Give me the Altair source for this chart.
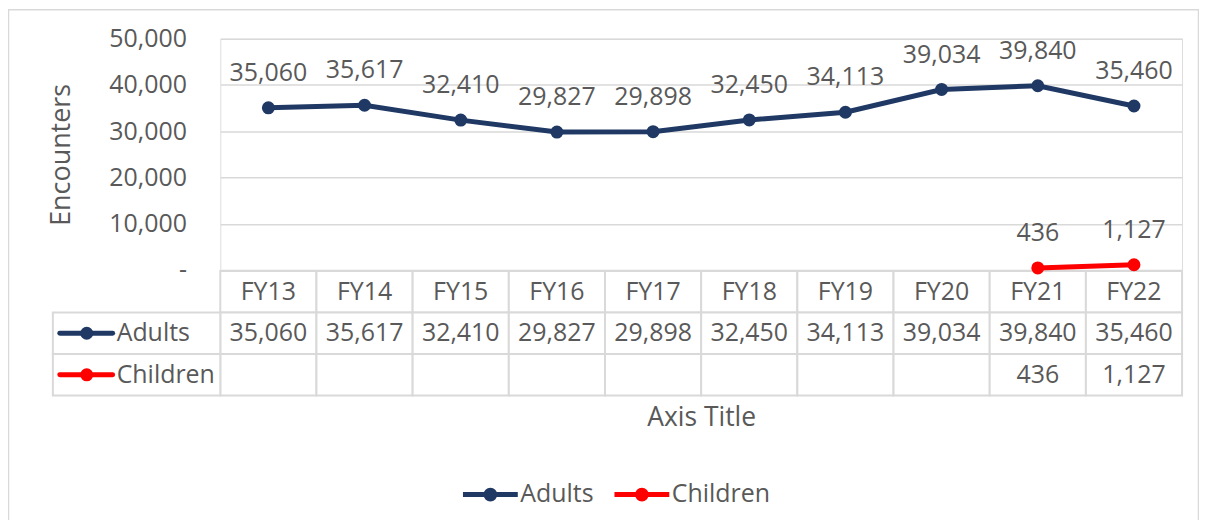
import altair as alt
import pandas as pd

years = ["FY13", "FY14", "FY15", "FY16", "FY17", "FY18", "FY19", "FY20", "FY21", "FY22"]
adults = [35060, 35617, 32410, 29827, 29898, 32450, 34113, 39034, 39840, 35460]
children_years = ["FY21", "FY22"]
children = [436, 1127]
series = ["Adults", "Children"]
colors = ["#1f3864", "#ff0000"]
y_ticks = [0, 10000, 20000, 30000, 40000, 50000]
table_rows = ["hdr", "Adults", "Children"]

FONT = "Open Sans"
GRAY = "#595959"
GRID = "#d9d9d9"
FS = 25

line_df = pd.DataFrame(
    [{"FY": y, "series": "Adults", "value": v} for y, v in zip(years, adults)]
    + [{"FY": y, "series": "Children", "value": v} for y, v in zip(children_years, children)]
)
line_df["label"] = line_df["value"].map(lambda v: f"{v:,}")
line_df["row"] = line_df["series"]

cells_df = pd.DataFrame([{"FY": y, "row": r} for y in years for r in table_rows])
hdr_df = pd.DataFrame({"FY": years, "row": ["hdr"] * len(years), "label": years})
rowlab_df = pd.DataFrame({"row": series, "series": series})
frame_df = pd.DataFrame({"a": [0]})

x_enc = alt.X(
    "FY:N",
    scale=alt.Scale(type="band", domain=years, paddingInner=0, paddingOuter=0),
    axis=alt.Axis(labels=False, ticks=False, domain=False, grid=False,
                  title="Axis Title", titleFontSize=26.5, titleColor=GRAY,
                  titleFontWeight="normal", titleFont=FONT, titleY=148,
                  titleBaseline="middle"),
)
row_y = alt.Y("row:N", scale=alt.Scale(domain=table_rows, range=[233, 358],
                                       paddingInner=0, paddingOuter=0), axis=None)
color_enc = alt.Color(
    "series:N",
    scale=alt.Scale(domain=series, range=colors),
    legend=alt.Legend(
        orient="none", legendX=241, legendY=427, direction="horizontal",
        title=None,
        symbolType="M-1,0H1M-0.16,0A0.16,0.16 0 1,0 0.16,0A0.16,0.16 0 1,0 -0.16,0",
        symbolSize=3025, symbolStrokeWidth=5, labelFontSize=FS, labelColor=GRAY,
        labelFont=FONT, columnPadding=10, labelOffset=0,
    ),
)

frame = alt.Chart(frame_df).mark_rect(fill="transparent", stroke=GRID, strokeWidth=1.5).encode(
    x=alt.value(-212.5), x2=alt.value(981.5), y=alt.value(-29), y2=alt.value(600)
)

cells = alt.Chart(cells_df).mark_rect(fill="white", stroke=GRID, strokeWidth=2).encode(
    x=x_enc, y=row_y
)
labcells = alt.Chart(rowlab_df).mark_rect(fill="white", stroke=GRID, strokeWidth=2).encode(
    x=alt.value(-168), x2=alt.value(0), y=row_y
)
hdr_text = alt.Chart(hdr_df).mark_text(fontSize=FS, font=FONT, color=GRAY).encode(
    x=x_enc, y=row_y, text="label:N"
)
val_text = alt.Chart(line_df).mark_text(fontSize=FS, font=FONT, color=GRAY).encode(
    x=x_enc, y=row_y, text="label:N"
)
row_text = alt.Chart(rowlab_df).mark_text(fontSize=FS, font=FONT, color=GRAY, align="left").encode(
    x=alt.value(-104), y=row_y, text="series:N"
)
key_rule = alt.Chart(rowlab_df).mark_rule(strokeWidth=5, strokeCap="round").encode(
    x=alt.value(-161), x2=alt.value(-108), y=row_y,
    color=alt.Color("series:N", scale=alt.Scale(domain=series, range=colors), legend=None),
)
key_pt = alt.Chart(rowlab_df).mark_circle(size=170, opacity=1).encode(
    x=alt.value(-134), y=row_y,
    color=alt.Color("series:N", scale=alt.Scale(domain=series, range=colors), legend=None),
)
table = alt.layer(cells, labcells, hdr_text, val_text, row_text, key_rule, key_pt)

y_enc = alt.Y(
    "value:Q",
    scale=alt.Scale(domain=[0, 50000], nice=False),
    axis=alt.Axis(
        values=y_ticks,
        labelExpr="datum.value == 0 ? '-\u00a0\u00a0\u00a0' : format(datum.value, ',')",
        grid=True, gridColor=GRID, gridWidth=1.5, domain=False, ticks=False,
        labelPadding=34, labelFontSize=FS, labelColor=GRAY, labelFont=FONT,
        title="Encounters", titleX=-159, titleY=116, titleAngle=270,
        titleAlign="center", titleBaseline="middle", titleFontSize=27,
        titleFontWeight="normal", titleColor=GRAY, titleFont=FONT,
    ),
)
lines = alt.Chart(line_df).mark_line(
    strokeWidth=5, point=alt.OverlayMarkDef(filled=True, size=170, opacity=1)
).encode(x=x_enc, y=y_enc, color=color_enc, detail="series:N")
labels = alt.Chart(line_df).mark_text(dy=-35, fontSize=FS, font=FONT, color=GRAY).encode(
    x=x_enc, y=y_enc, text="label:N"
)
plot = alt.layer(lines, labels)

chart = alt.layer(frame, table, plot).resolve_scale(y="independent", color="independent").properties(
    width=965, height=232,
    autosize=alt.AutoSizeParams(type="none"),
    padding={"left": 213, "top": 30, "right": 17, "bottom": 250},
).configure_view(stroke=None).configure(background="white")

chart.save("out.html", embed_options={"renderer": "svg", "actions": False})
